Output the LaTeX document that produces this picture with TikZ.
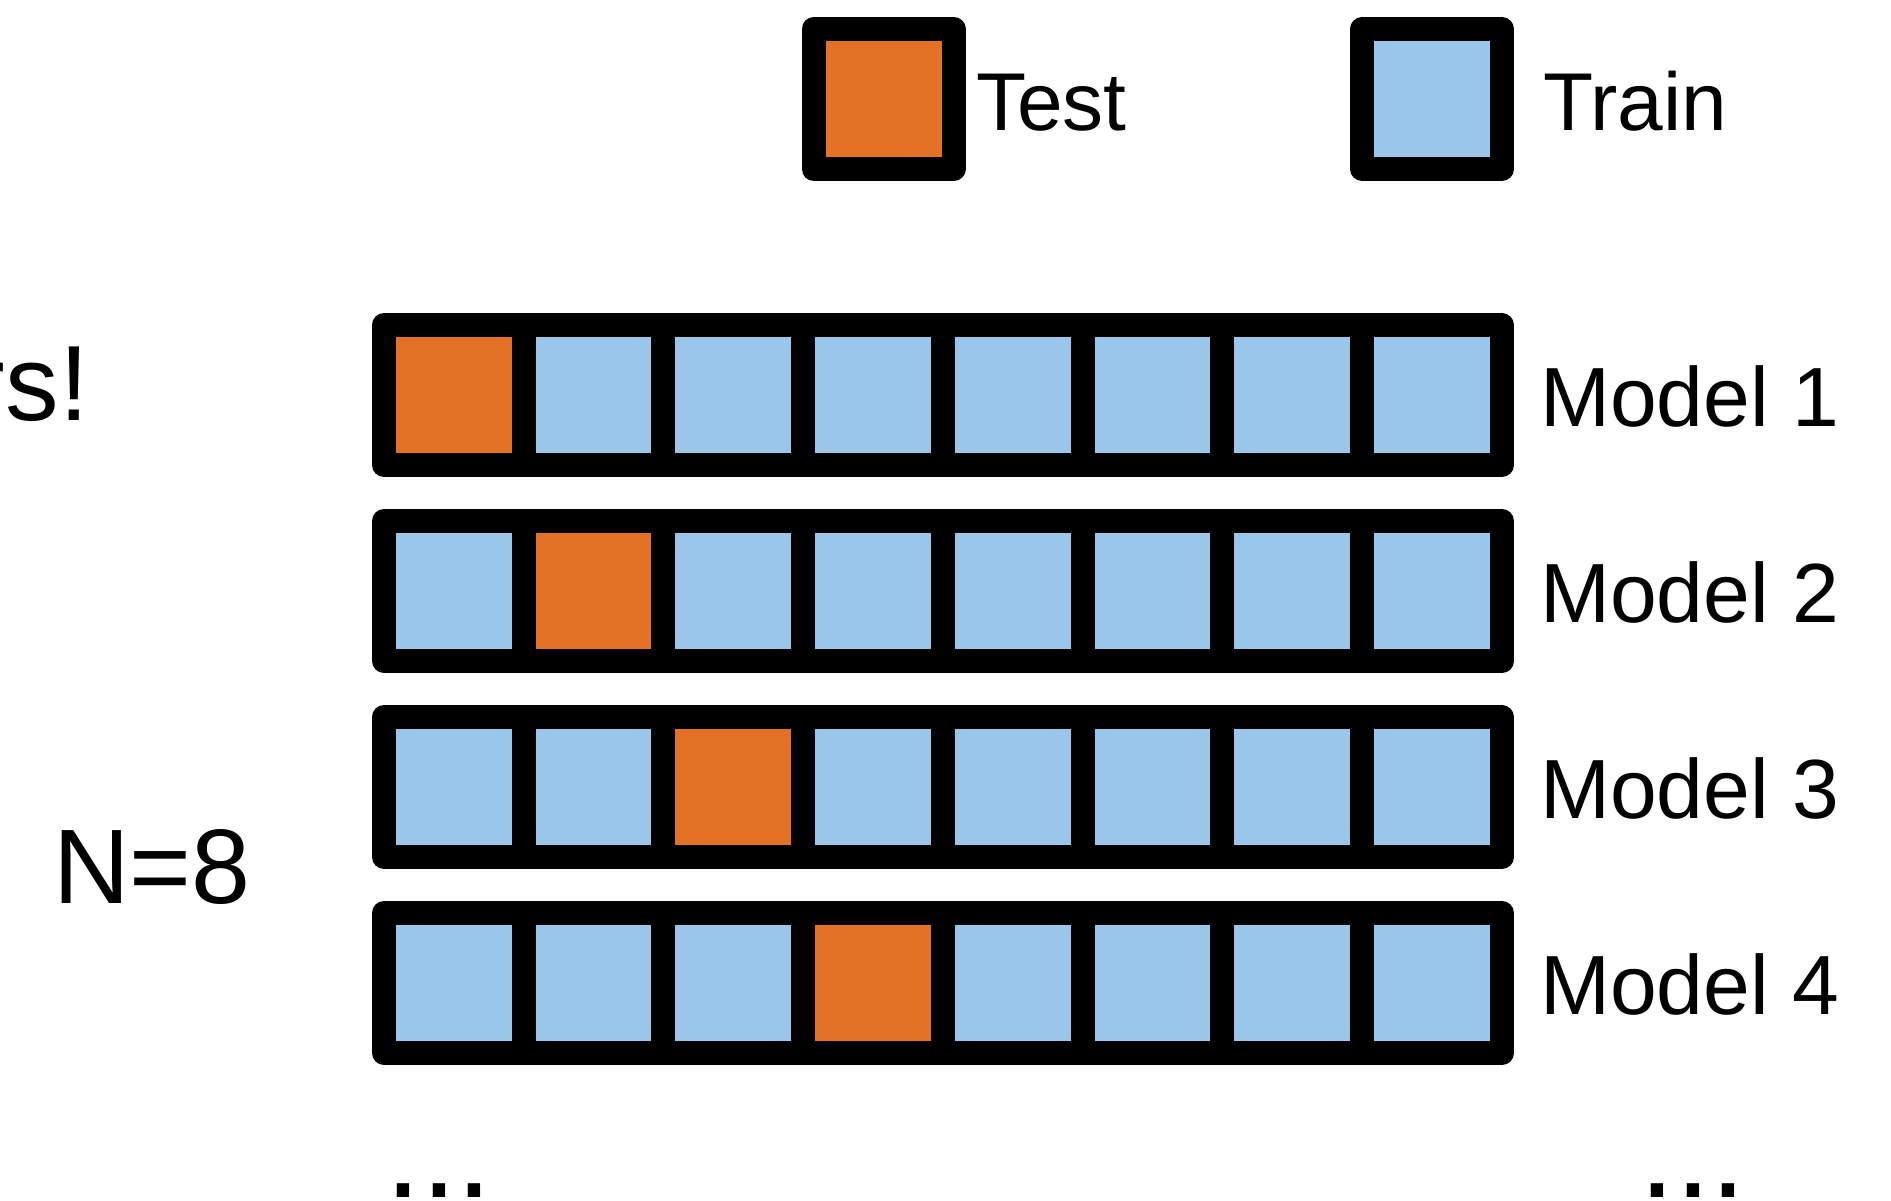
\documentclass[tikz,border=0pt]{standalone}
\usepackage{fontspec}
\setmainfont{Liberation Sans}
\definecolor{testc}{HTML}{E37226}
\definecolor{trainc}{HTML}{99C6E9}
\begin{document}
\begin{tikzpicture}[x=1pt,y=-1pt,
  cellbox/.style={draw=black, line width=24pt, line join=round, minimum width=140pt, minimum height=140pt, inner sep=0pt, outer sep=0pt},
  trainbox/.style={cellbox, fill=trainc},
  testbox/.style={cellbox, fill=testc},
  lbl/.style={inner sep=0pt, anchor=base west, font=\fontsize{84}{90}\selectfont},
  leglbl/.style={inner sep=0pt, anchor=base west, font=\fontsize{82}{90}\selectfont}]
\useasboundingbox (0,0) rectangle (1891,1201);
% legend
\node[testbox] (legtest) at (883.5,99) {};
\node[leglbl] (legtesttxt) at (976,131) {Test};
\node[trainbox] (legtrain) at (1432,99) {};
\node[leglbl] (legtraintxt) at (1543,131) {Train};
% rows
\foreach \r in {0,...,3} {
  \foreach \k in {0,...,7} {
    \ifnum\k=\r\def\cs{testbox}\else\def\cs{trainbox}\fi
    \node[\cs] (c\r\k) at ({454+139.7*\k},{395+196*\r}) {};
  }
  \node[lbl] (m\r) at (1540,{395+196*\r+31}) {Model \the\numexpr\r+1\relax};
}
% left texts
\node[inner sep=0pt, anchor=base east, font=\fontsize{107}{110}\selectfont] (folds) at (89,420) {rs!};
\node[inner sep=0pt, anchor=base west, font=\fontsize{106}{110}\selectfont] (nlab) at (53,903) {N=8};
% dots
\node[inner sep=0pt, anchor=base west, font=\fontsize{129}{130}\selectfont] (dotsl) at (385,1197) {...};
\node[inner sep=0pt, anchor=base west, font=\fontsize{129}{130}\selectfont] (dotsr) at (1639,1197) {...};
\end{tikzpicture}
\end{document}
